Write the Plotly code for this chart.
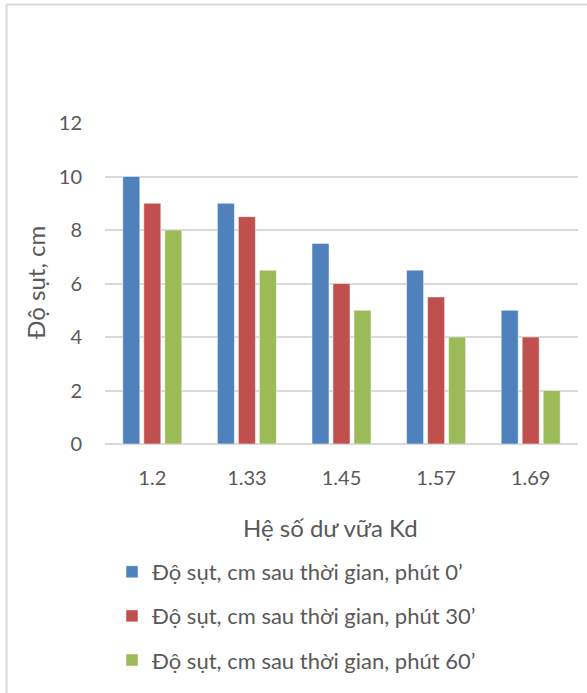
import plotly.graph_objects as go

categories = ["1.2", "1.33", "1.45", "1.57", "1.69"]
series_names = [
    "Độ sụt, cm sau thời gian, phút 0’",
    "Độ sụt, cm sau thời gian, phút 30’",
    "Độ sụt, cm sau thời gian, phút 60’",
]
values_0 = [10, 9, 7.5, 6.5, 5]
values_30 = [9, 8.5, 6, 5.5, 4]
values_60 = [8, 6.5, 5, 4, 2]
colors = ["#4F81BD", "#C0504D", "#9BBB59"]
y_ticks = [0, 2, 4, 6, 8, 10, 12]

FONT = "Lato"
TXT = "#595959"

W, H = 587, 693
# plot area in reference pixel coords: x 105..578, y 123..444
L, R, T, B = 105, 587 - 578, 123, 693 - 444
pw, ph = W - L - R, H - T - B

def px_x(p):
    return (p - L) / pw

def px_y(p):
    return (H - B - p) / ph

fig = go.Figure()
for name, vals, col in zip(series_names, [values_0, values_30, values_60], colors):
    fig.add_trace(go.Bar(
        x=categories, y=vals, name=name, legendgroup=name,
        marker=dict(color=col, line=dict(color="rgba(255,255,255,0.5)", width=1)),
    ))

border = dict(color="#D9D9D9", width=2)
fig.update_layout(
    width=W, height=H,
    margin=dict(l=L, r=R, t=T, b=B, autoexpand=False),
    paper_bgcolor="white", plot_bgcolor="white",
    barmode="group", bargap=0.334, bargroupgap=0.19,
    font=dict(family=FONT, color=TXT, size=20),
    showlegend=True,
    legend=dict(
        x=px_x(112), y=px_y(551), xanchor="left", yanchor="top",
        font=dict(size=22, color=TXT, family=FONT),
        tracegroupgap=12.5, itemclick=False,
        bgcolor="rgba(0,0,0,0)",
    ),
    xaxis=dict(
        type="category", showgrid=False, zeroline=False, showline=False,
        ticks="", tickfont=dict(size=20, color=TXT), ticklabelstandoff=20,
    ),
    yaxis=dict(
        range=[0, 12], tickvals=y_ticks, showgrid=True, gridcolor="#D9D9D9",
        gridwidth=1.5, zeroline=True, zerolinecolor="#D9D9D9", zerolinewidth=1.5,
        showline=False, ticks="", tickfont=dict(size=20, color=TXT),
        ticklabelstandoff=22,
    ),
    annotations=[
        dict(text="Độ sụt, cm", xref="paper", yref="paper", x=px_x(35), y=px_y(283),
             showarrow=False, textangle=-90, font=dict(size=24, color=TXT, family=FONT),
             xanchor="center", yanchor="middle"),
        dict(text="Hệ số dư vữa Kd", xref="paper", yref="paper", x=px_x(330), y=px_y(527),
             showarrow=False, font=dict(size=24, color=TXT, family=FONT),
             xanchor="center", yanchor="middle"),
    ],
    shapes=[
        dict(type="line", xref="paper", yref="paper", x0=px_x(6.5), x1=px_x(6.5),
             y0=px_y(693), y1=px_y(4.5), line=border, layer="below"),
        dict(type="line", xref="paper", yref="paper", x0=px_x(6.5), x1=px_x(587),
             y0=px_y(4.5), y1=px_y(4.5), line=border, layer="below"),
    ],
)

fig.write_html(
    "out.html",
    config={"displayModeBar": False},
    post_script="document.body.style.margin='0';document.body.style.padding='0';document.body.style.overflow='hidden';",
)
